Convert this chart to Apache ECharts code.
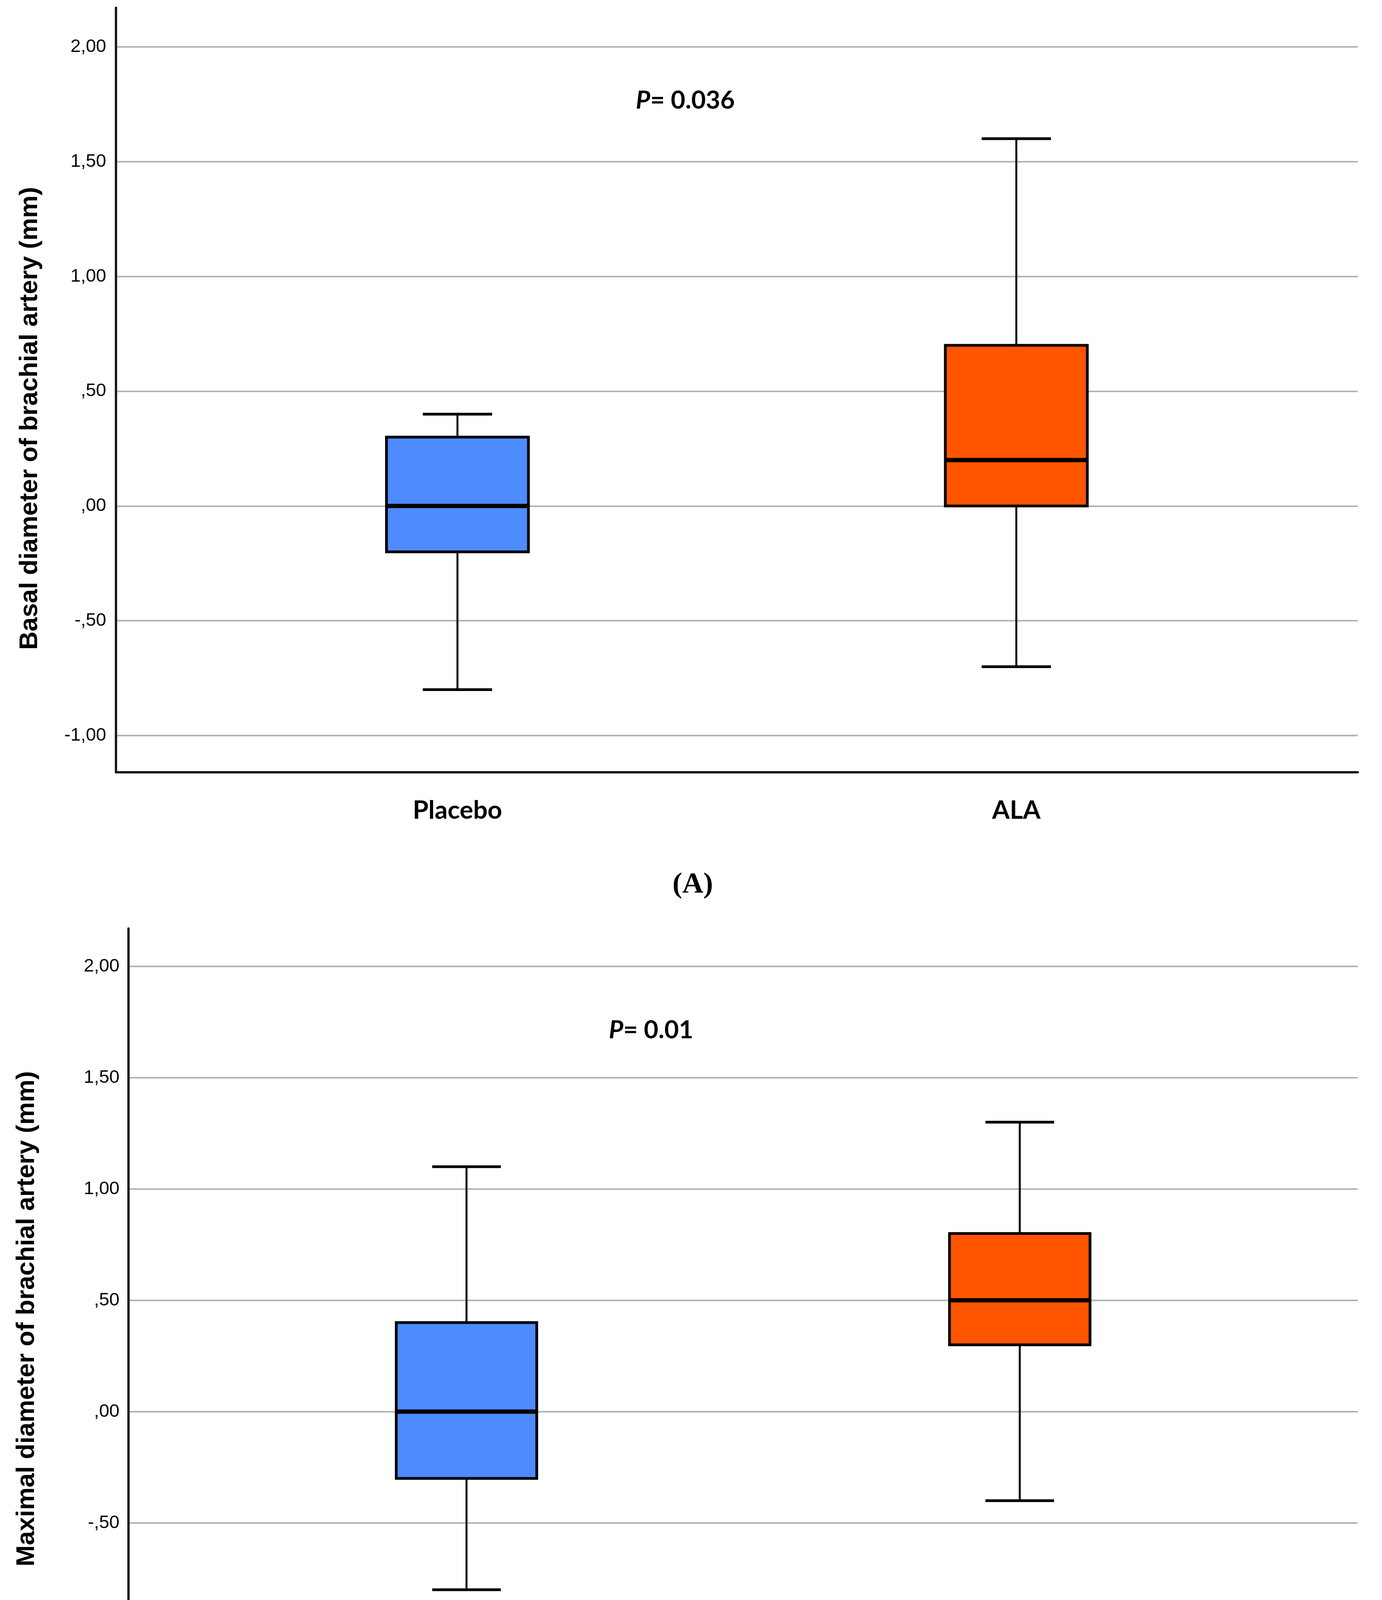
<!DOCTYPE html>
<html>
<head>
<meta charset="utf-8">
<script src="https://cdn.jsdelivr.net/npm/echarts@6/dist/echarts.min.js"></script>
<style>
html,body{margin:0;padding:0;background:#fff;}
#c{width:3539px;height:4611px;}
</style>
</head>
<body>
<div id="c"></div>
<script>
// ---- data ----
const categories = ['Placebo', 'ALA'];
const yTickValues = [-1, -0.5, 0, 0.5, 1, 1.5, 2];
const yTickLabels = ['-1,00', '-,50', ',00', ',50', '1,00', '1,50', '2,00'];

// Panel A: basal diameter of brachial artery (mm)
const basalMin    = [-0.80, -0.70];
const basalQ1     = [-0.20,  0.00];
const basalMedian = [ 0.00,  0.20];
const basalQ3     = [ 0.30,  0.70];
const basalMax    = [ 0.40,  1.60];
const basalP = '0.036';

// Panel B: maximal diameter of brachial artery (mm)
const maximalMin    = [-0.80, -0.40];
const maximalQ1     = [-0.30,  0.30];
const maximalMedian = [ 0.00,  0.50];
const maximalQ3     = [ 0.40,  0.80];
const maximalMax    = [ 1.10,  1.30];
const maximalP = '0.01';

const boxColors = ['#4d8bff', '#ff5500'];

// ---- helpers ----
function rows(mn, q1, md, q3, mx) {
  return categories.map((c, i) => [i, mn[i], q1[i], md[i], q3[i], mx[i]]);
}
const BOX_W = 0.254, CAP_W = 0.124;
function renderBox(params, api) {
  const x = api.value(0);
  const pMin = api.coord([x, api.value(1)]);
  const pQ1 = api.coord([x, api.value(2)]);
  const pMed = api.coord([x, api.value(3)]);
  const pQ3 = api.coord([x, api.value(4)]);
  const pMax = api.coord([x, api.value(5)]);
  const bw = api.size([BOX_W, 0])[0];
  const cw = api.size([CAP_W, 0])[0];
  const cx = pMed[0];
  const line = (x1, y1, x2, y2, w) => ({
    type: 'line', shape: {x1, y1, x2, y2},
    style: {stroke: '#000', lineWidth: w}
  });
  return {
    type: 'group',
    children: [
      line(cx, pMax[1], cx, pQ3[1], 5),
      line(cx, pQ1[1], cx, pMin[1], 5),
      line(cx - cw / 2, pMax[1], cx + cw / 2, pMax[1], 7),
      line(cx - cw / 2, pMin[1], cx + cw / 2, pMin[1], 7),
      {
        type: 'rect',
        shape: {x: cx - bw / 2, y: pQ3[1], width: bw, height: pQ1[1] - pQ3[1]},
        style: {fill: boxColors[params.dataIndex], stroke: '#000', lineWidth: 7}
      },
      line(cx - bw / 2, pMed[1], cx + bw / 2, pMed[1], 11)
    ]
  };
}

const grids = [
  {left: 297, top: 20, height: 1957, right: 62},
  {left: 329, top: 2377, height: 1898, right: 62}
];
const labelMargins = [66, 72];
const yLabelMargins = [25, 23];

function xAxisFor(i) {
  return {
    type: 'value', gridIndex: i, min: -0.611, max: 1.611,
    axisLine: {show: true, onZero: false, lineStyle: {color: '#1a1a1a', width: 6}},
    axisTick: {show: false, customValues: [0, 1]},
    splitLine: {show: false},
    axisLabel: {
      customValues: [0, 1],
      formatter: v => categories[Math.round(v)],
      margin: labelMargins[i],
      fontFamily: 'Lato', fontWeight: 'bold', fontSize: 65, color: '#000'
    }
  };
}
function yAxisFor(i) {
  return {
    type: 'value', gridIndex: i, min: -1.16, max: 2.17,
    axisLine: {show: true, onZero: false, lineStyle: {color: '#1a1a1a', width: 6}},
    axisTick: {show: false, customValues: yTickValues},
    splitLine: {show: true, lineStyle: {color: '#b3b3b3', width: 4}},
    axisLabel: {
      customValues: yTickValues,
      formatter: v => yTickLabels[yTickValues.findIndex(t => Math.abs(t - v) < 1e-6)],
      margin: yLabelMargins[i],
      fontFamily: 'Liberation Sans', fontSize: 47, color: '#000'
    }
  };
}

const titleFont = "bold 65px 'Liberation Sans', Arial, sans-serif";
function pText(x, y, val) {
  return {
    type: 'text', left: x, top: y,
    style: {
      text: '{i|P}{n|= ' + val + '}',
      rich: {
        i: {fontFamily: 'Lato', fontWeight: 'bold', fontStyle: 'italic', fontSize: 64, fill: '#000'},
        n: {fontFamily: 'Lato', fontWeight: 'bold', fontSize: 64, fill: '#000'}
      }
    }
  };
}

const chart = echarts.init(document.getElementById('c'), null, {renderer: 'canvas'});
chart.setOption({
  animation: false,
  backgroundColor: '#fff',
  grid: grids,
  xAxis: [xAxisFor(0), xAxisFor(1)],
  yAxis: [yAxisFor(0), yAxisFor(1)],
  series: [
    {type: 'custom', xAxisIndex: 0, yAxisIndex: 0, renderItem: renderBox,
     encode: {x: 0, y: [1, 2, 3, 4, 5]},
     data: rows(basalMin, basalQ1, basalMedian, basalQ3, basalMax)},
    {type: 'custom', xAxisIndex: 1, yAxisIndex: 1, renderItem: renderBox,
     encode: {x: 0, y: [1, 2, 3, 4, 5]},
     data: rows(maximalMin, maximalQ1, maximalMedian, maximalQ3, maximalMax)}
  ],
  graphic: [
    {type: 'text', x: 77, y: 1071, rotation: Math.PI / 2,
     style: {text: 'Basal diameter of brachial artery (mm)', font: titleFont, fill: '#000',
             textAlign: 'center', textVerticalAlign: 'middle'}},
    {type: 'text', x: 69, y: 3376, rotation: Math.PI / 2,
     style: {text: 'Maximal diameter of brachial artery (mm)', font: titleFont, fill: '#000',
             textAlign: 'center', textVerticalAlign: 'middle'}},
    pText(1628, 225, basalP),
    pText(1559, 2605, maximalP),
    {type: 'text', x: 1774, y: 2266,
     style: {text: '(A)', font: "bold 75px 'Liberation Serif', serif", fill: '#000',
             textAlign: 'center', textVerticalAlign: 'middle'}},
    {type: 'text', x: 1773, y: 4567,
     style: {text: '(B)', font: "bold 75px 'Liberation Serif', serif", fill: '#000',
             textAlign: 'center', textVerticalAlign: 'middle'}}
  ]
});
</script>
</body>
</html>
